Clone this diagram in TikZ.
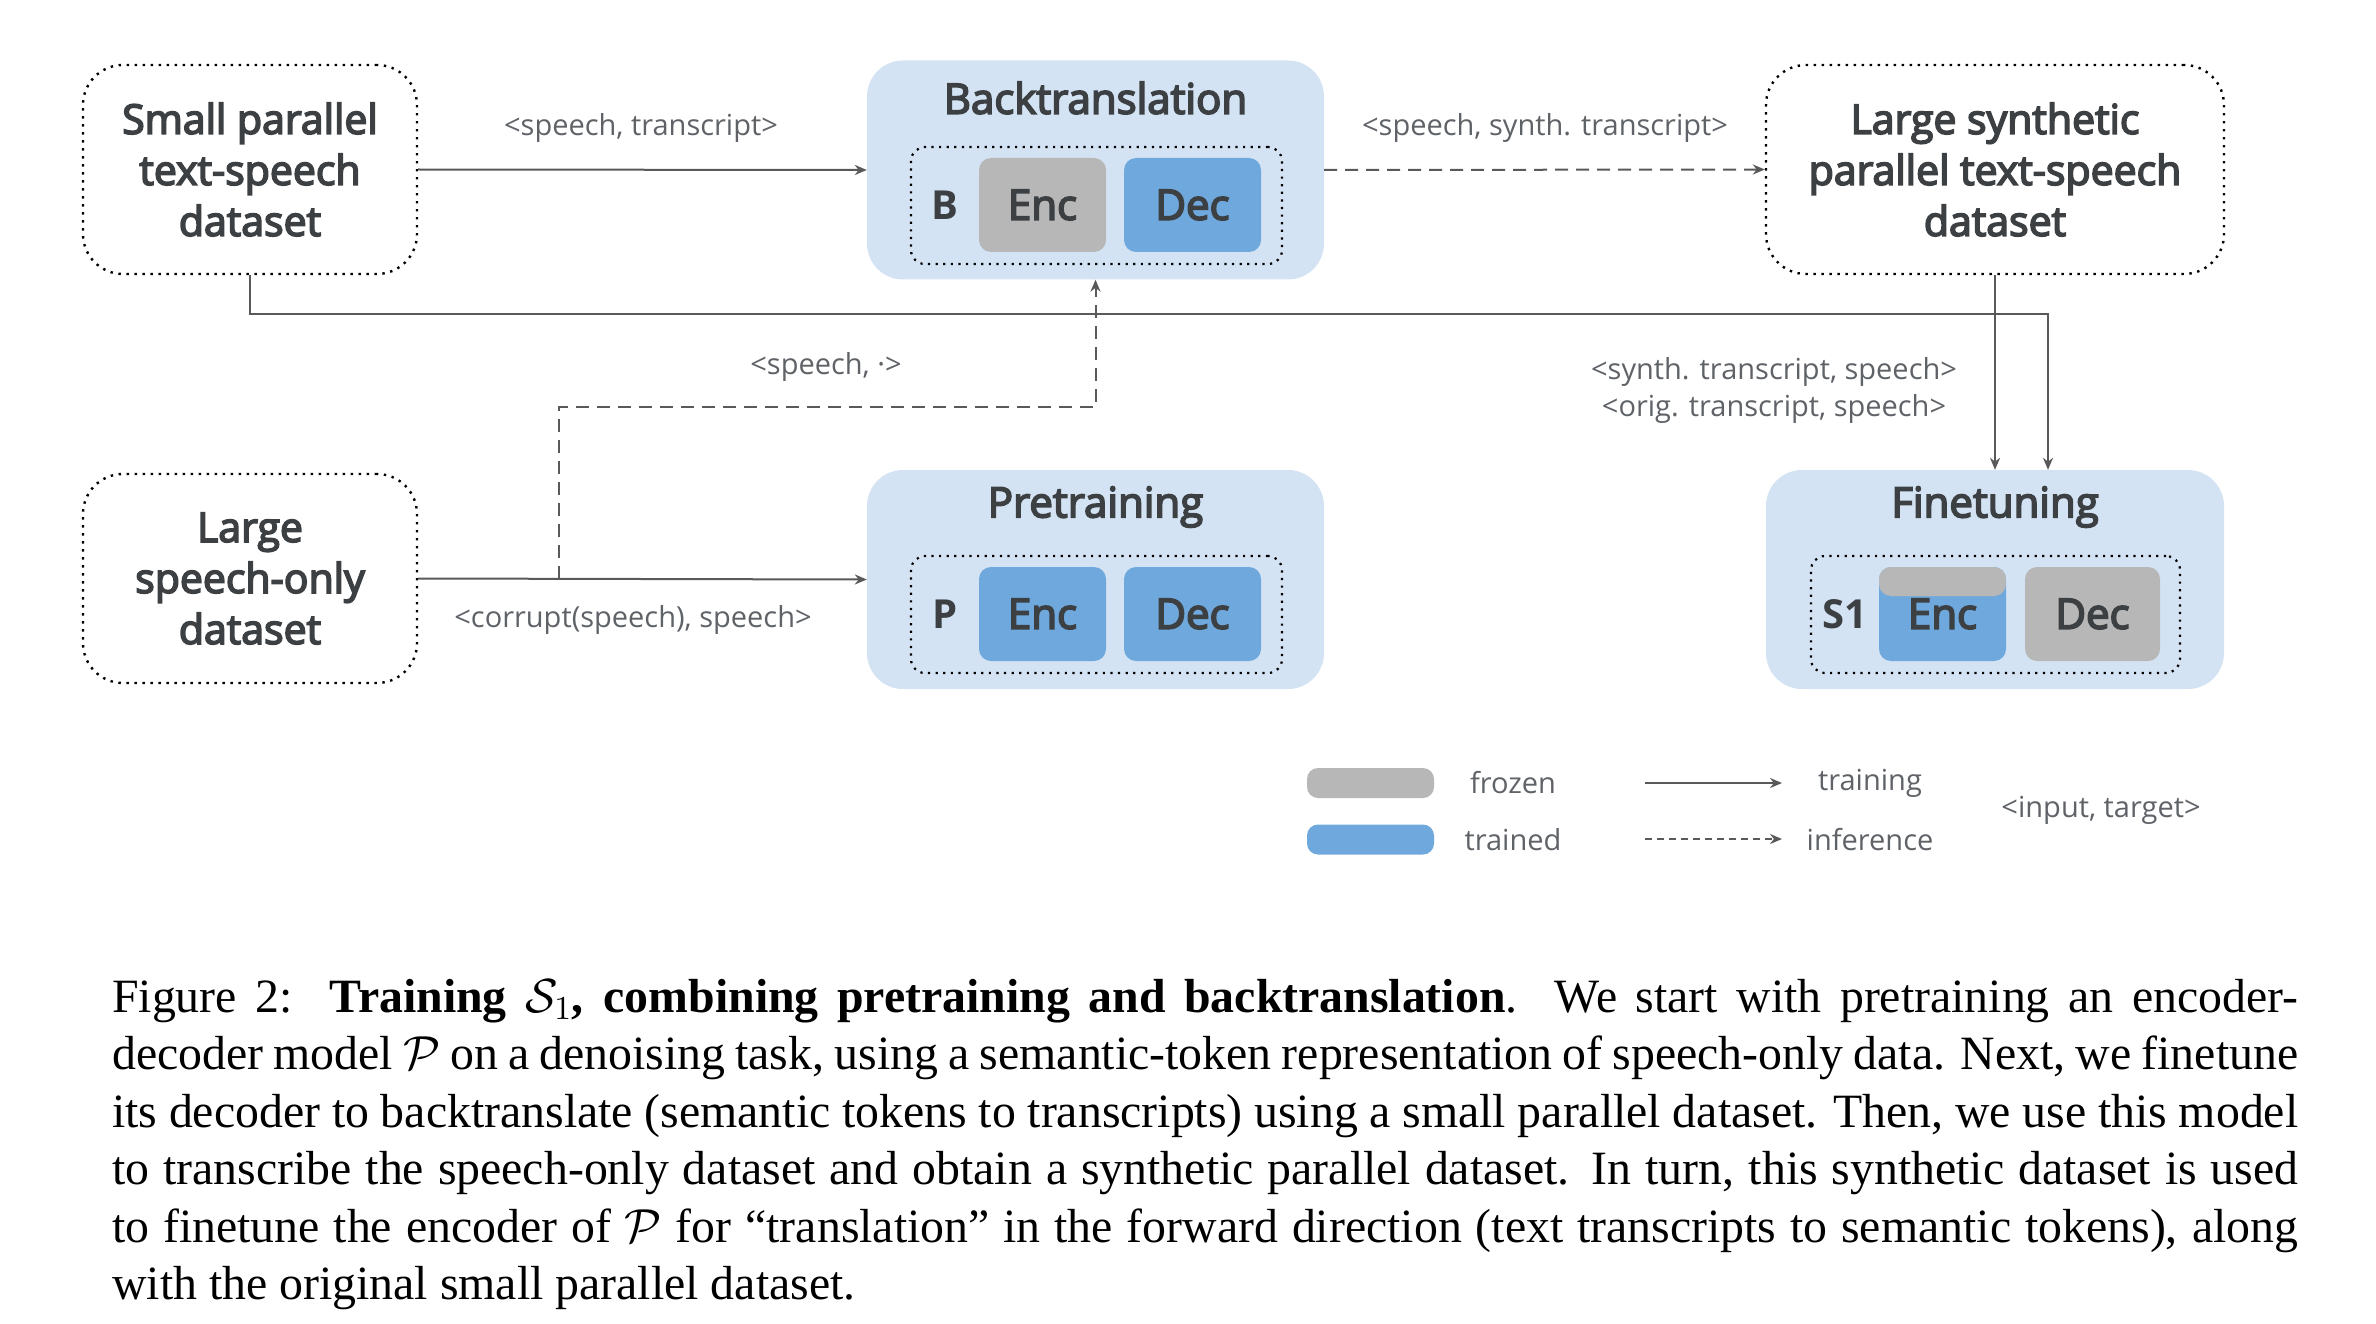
\documentclass[tikz,border=0pt]{standalone}
\usepackage{fontspec}
\setmainfont{Liberation Serif}
\newfontfamily\labfont{Open Sans}
\newfontfamily\medfont{Open Sans}[UprightFeatures={FakeBold=4}]
% scalable math fonts for the big caption
\DeclareFontShape{OMS}{cmsy}{m}{n}{<->cmsy10}{}
\DeclareFontShape{OML}{cmm}{m}{it}{<->cmmi10}{}
\DeclareFontShape{OT1}{cmr}{m}{n}{<->cmr10}{}
\DeclareFontShape{OMX}{cmex}{m}{n}{<->cmex10}{}
\usepackage{tikz}
\usetikzlibrary{arrows.meta}
\definecolor{ink}{HTML}{3C4043}
\definecolor{note}{HTML}{5F6368}
\definecolor{wire}{HTML}{595959}
\definecolor{stagec}{HTML}{D3E3F4}
\definecolor{trainedc}{HTML}{6FA8DC}
\definecolor{frozenc}{HTML}{B7B7B7}

\begin{document}
\begin{tikzpicture}[x=1pt,y=-1pt,
	dataset/.style={draw=black,line width=2.4pt,dash pattern=on 2.4pt off 5.6pt,rounded corners=40pt,
		minimum width=334pt,minimum height=209pt,align=center,text=ink,
		font=\medfont\fontsize{41}{51}\selectfont},
	stagebox/.style={fill=stagec,rounded corners=36pt,minimum width=457pt,minimum height=219pt},
	stagetitle/.style={text=ink,font=\medfont\fontsize{42}{50}\selectfont},
	modelbox/.style={draw=black,line width=2.2pt,dash pattern=on 2.2pt off 5.4pt,rounded corners=14pt,
		minimum width=371pt,minimum height=117pt},
	block/.style={rounded corners=12pt,minimum width=127pt,minimum height=94pt,text=ink,
		font=\medfont\fontsize{42}{50}\selectfont},
	tag/.style={text=ink,font=\labfont\bfseries\fontsize{40}{48}\selectfont},
	note/.style={text=note,font=\labfont\fontsize{29}{37}\selectfont,align=center},
	swatch/.style={rounded corners=11pt,minimum width=127pt,minimum height=30pt},
	wire/.style={draw=wire,line width=2pt},
	->/.style={-{Stealth[length=12pt,width=10pt]}},
	inferline/.style={dash pattern=on 13pt off 8pt}]

	\fill[white] (0,0) rectangle (2376,1324);
	\useasboundingbox (0,0) rectangle (2376,1324);

	% datasets
	\node[dataset] (small) at (250,169.5) {Small parallel\\text-speech\\dataset};
	\node[dataset] (speechonly) at (250,578.5) {Large\\speech-only\\dataset};
	\node[dataset,minimum width=458pt] (synth) at (1995,169.5) {Large synthetic\\parallel text-speech\\dataset};

	% stages
	\node[stagebox] (bt) at (1095.5,170) {};
	\node[stagetitle] (bttitle) at (1095.5,98) {Backtranslation};
	\node[modelbox] (btmodel) at (1096.5,205.5) {};
	\node[tag] (btname) at (945,205) {B};
	\node[block,fill=frozenc] (btenc) at (1042.5,205) {Enc};
	\node[block,fill=trainedc,minimum width=137pt] (btdec) at (1192.5,205) {Dec};

	\node[stagebox] (pt) at (1095.5,579.5) {};
	\node[stagetitle] (pttitle) at (1095.5,507) {Pretraining};
	\node[modelbox] (ptmodel) at (1096.5,614.5) {};
	\node[tag] (ptname) at (945,614) {P};
	\node[block,fill=trainedc] (ptenc) at (1042.5,614) {Enc};
	\node[block,fill=trainedc,minimum width=137pt] (ptdec) at (1192.5,614) {Dec};

	\node[stagebox,minimum width=458pt] (ft) at (1995,579.5) {};
	\node[stagetitle] (fttitle) at (1995,507) {Finetuning};
	\node[modelbox,minimum width=369pt] (ftmodel) at (1995.5,614.5) {};
	\node[tag] (ftname) at (1845,614) {S1};
	\node[block,fill=trainedc,path picture={
		\fill[frozenc] (path picture bounding box.north west) rectangle ([yshift=-29pt]path picture bounding box.north east);}]
		(ftenc) at (1942.5,614) {\raisebox{-6pt}{Enc}};
	\node[block,fill=frozenc,minimum width=135pt] (ftdec) at (2092.5,614) {Dec};

	% connectors
	\draw[wire,->] (small.east) -- (bt.west);
	\draw[wire,inferline,->] (bt.east) -- (synth.west);
	\draw[wire,->] (speechonly.east) -- (pt.west);
	\coordinate (fork) at (559,579);
	\coordinate (forkup) at (559,407);
	\draw[wire,inferline,->] (fork) -- (forkup) -| (bt.south);
	\coordinate (smalljoin) at (2048,314);
	\draw[wire,->] (small.south) |- (smalljoin) -- (smalljoin |- ft.north);
	\draw[wire,->] (synth.south) -- (ft.north);

	\node[note] (smalllbl) at (641,128) {<speech, transcript>};
	\node[note] (synthlbl) at (1545,128) {<speech, synth. transcript>};
	\node[note] (forklbl) at (826,367) {<speech, ·>};
	\node[note] (ptlbl) at (633,620) {<corrupt(speech), speech>};
	\node[note] (ftlbl) at (1774,390) {<synth. transcript, speech>\\<orig. transcript, speech>};

	% legend
	\node[swatch,fill=frozenc] (frozenkey) at (1370.5,783) {};
	\node[swatch,fill=trainedc] (trainedkey) at (1370.5,839.5) {};
	\node[note] (frozentxt) at (1513,783) {frozen};
	\node[note] (trainedtxt) at (1513,840) {trained};
	\coordinate (trainA) at (1645,783);
	\coordinate (trainB) at (1782,783);
	\coordinate (inferA) at (1645,839);
	\coordinate (inferB) at (1782,839);
	\draw[wire,->] (trainA) -- (trainB);
	\draw[wire,dash pattern=on 7pt off 5pt,->] (inferA) -- (inferB);
	\node[note] (traintxt) at (1870,783) {training};
	\node[note] (infertxt) at (1870,840) {inference};
	\node[note] (pairtxt) at (2101,810) {<input, target>};

	% caption
	\node[anchor=base west,inner sep=0pt,text width=2186pt,align=justify,
		font=\fontsize{47.8}{57.5}\selectfont] (caption) at (112,1012)
		{Figure 2:\ \ \textbf{Training $\mathcal{S}_1$, combining pretraining and backtranslation}.\ \ We start with pretraining an encoder-\linebreak
		decoder model $\mathcal{P}$ on a denoising task, using a semantic-token representation of speech-only data. Next, we finetune\linebreak
		its decoder to backtranslate (semantic tokens to transcripts) using a small parallel dataset. Then, we use this model\linebreak
		to transcribe the speech-only dataset and obtain a synthetic parallel dataset. In turn, this synthetic dataset is used\linebreak
		to finetune the encoder of $\mathcal{P}$ for ``translation'' in the forward direction (text transcripts to semantic tokens), along\linebreak
		with the original small parallel dataset.};
\end{tikzpicture}
\end{document}
